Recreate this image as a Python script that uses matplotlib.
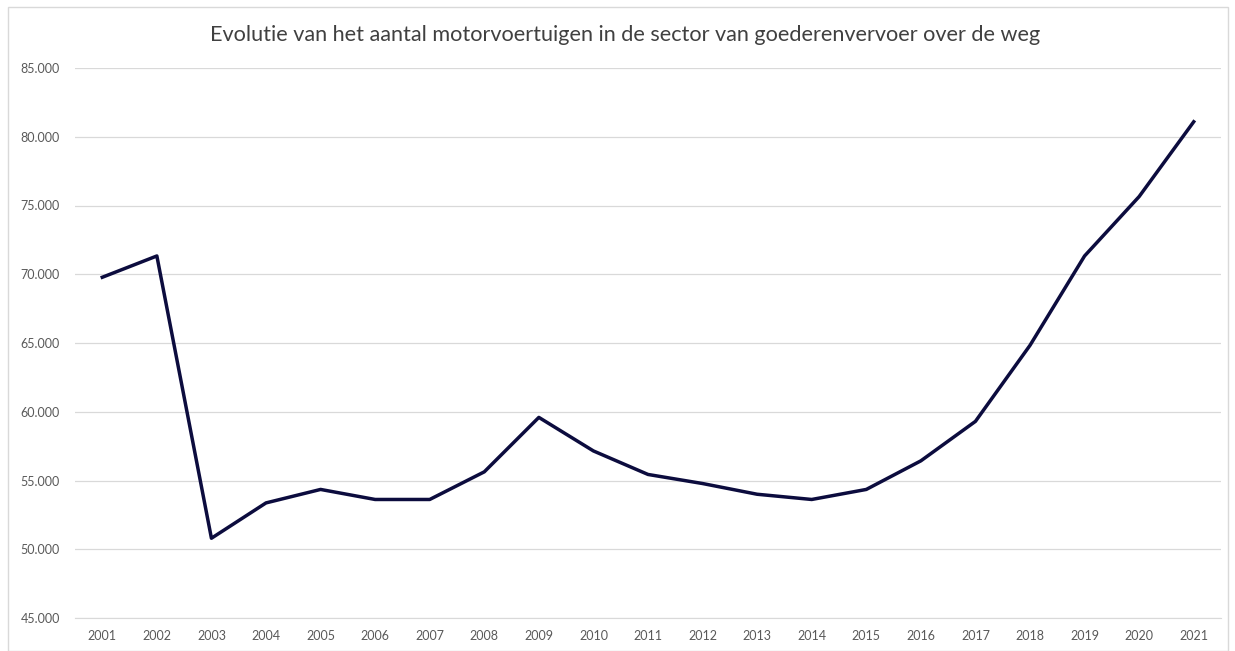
import matplotlib.pyplot as plt
from matplotlib.patches import Rectangle
from matplotlib.ticker import FuncFormatter, MultipleLocator

years = [str(y) for y in range(2001, 2022)]
vehicles = [69780, 71330, 50800, 53370, 54350, 53620, 53620, 55630, 59590, 57150,
            55440, 54780, 54000, 53620, 54350, 56430, 59300, 64830, 71330, 75650, 81090]

title = 'Evolutie van het aantal motorvoertuigen in de sector van goederenvervoer over de weg'

plt.rcParams['font.family'] = ['Lato', 'DejaVu Sans']

fig = plt.figure(figsize=(12.35, 6.51), dpi=100)
ax = fig.add_axes([75 / 1235, 1 - 618 / 651, (1221 - 75) / 1235, (618 - 68) / 651])

# chart border
fig.patches.append(Rectangle((8 / 1235, 0), (1228 - 8) / 1235, 1 - 7 / 651,
                             transform=fig.transFigure, fill=False,
                             edgecolor='#d9d9d9', linewidth=1))

x = range(len(years))
ax.plot(x, vehicles, color='#0c0c3e', linewidth=2.5, solid_joinstyle='round')

ax.set_xlim(-0.5, len(years) - 0.5)
ax.set_ylim(45000, 85000)
ax.yaxis.set_major_locator(MultipleLocator(5000))
ax.yaxis.set_major_formatter(FuncFormatter(lambda v, p: f'{int(v):,}'.replace(',', '.')))
ax.set_xticks(list(x))
ax.set_xticklabels(years)

ax.grid(axis='y', color='#d9d9d9', linewidth=0.9)
ax.set_axisbelow(True)
for s in ['top', 'left', 'right']:
    ax.spines[s].set_visible(False)
ax.spines['bottom'].set_color('#d9d9d9')
ax.tick_params(length=0, labelsize=9, labelcolor='#595959')
ax.tick_params(axis='y', pad=11)
ax.tick_params(axis='x', pad=9)

fig.text(625 / 1235, 1 - 35 / 651, title, ha='center', va='center',
         fontsize=15.6, color='#404040')

fig.savefig('out.png', dpi=100)
